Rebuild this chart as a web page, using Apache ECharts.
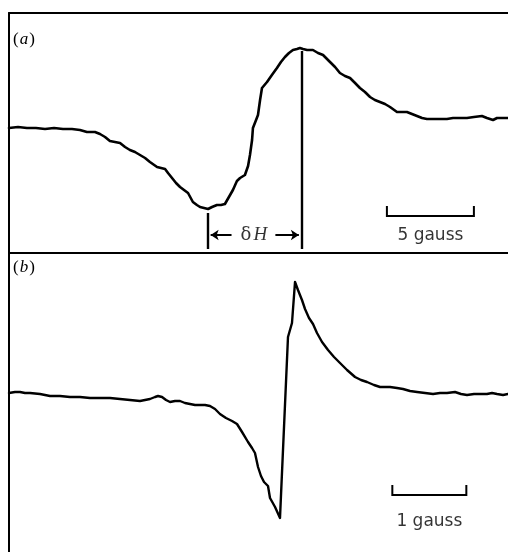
<!DOCTYPE html>
<html>
<head>
<meta charset="utf-8">
<script src="https://cdn.jsdelivr.net/npm/echarts@6/dist/echarts.min.js"></script>
<style>
  html, body { margin: 0; padding: 0; background: #fff; }
  #chart { width: 508px; height: 552px; }
</style>
</head>
<body>
<div id="chart"></div>
<script>
// (a) broad resonance: field offset in gauss, derivative signal in arbitrary units
const fieldA = [
  0, 0.52, 1.03, 1.55, 2.07, 2.59, 3.10, 3.62, 4.08, 4.48,
  4.94, 5.23, 5.52, 5.80, 6.09, 6.38, 6.67, 6.95, 7.24, 7.53,
  7.82, 8.10, 8.51, 8.97, 9.14, 9.37, 9.60, 9.83, 10.06, 10.29,
  10.57, 10.80, 10.98, 11.21, 11.44, 11.67, 11.95, 12.18, 12.41, 12.64,
  12.87, 13.10, 13.28, 13.56, 13.74, 13.85, 13.97, 14.02, 14.20, 14.31,
  14.43, 14.54, 14.83, 15.11, 15.40, 15.63, 15.86, 16.09, 16.32, 16.55,
  16.72, 16.90, 17.13, 17.47, 17.76, 18.05, 18.45, 18.74, 19.02, 19.31,
  19.60, 19.89, 20.17, 20.46, 20.75, 21.03, 21.32, 21.61, 21.90, 22.30,
  22.59, 22.87, 23.16, 23.45, 23.74, 24.02, 24.37, 24.77, 25.17, 25.52,
  25.92, 26.32, 26.72, 27.18, 27.47, 27.82, 28.05, 28.33, 28.68
];
const signalA = [
  0, 1, 0, 0, -1, 0, -1, -1, -2, -4,
  -4, -6, -9, -13, -14, -15, -19, -22, -24, -27,
  -30, -34, -39, -41, -45, -50, -55, -59, -62, -65,
  -74, -77, -79, -80, -81, -79, -77, -77, -76, -69,
  -62, -53, -50, -47, -38, -27, -12, 0, 8, 13,
  28, 40, 46, 53, 60, 66, 71, 75, 78, 79,
  80, 79, 78, 78, 75, 73, 66, 61, 55, 52,
  50, 45, 40, 36, 31, 28, 26, 24, 21, 16,
  16, 16, 14, 12, 10, 9, 9, 9, 9, 10,
  10, 10, 11, 12, 10, 8, 10, 10, 10
];

// (b) narrow resonance
const fieldB = [
  0, 0.081, 0.149, 0.216, 0.284, 0.419, 0.554, 0.689, 0.824, 0.959,
  1.095, 1.230, 1.365, 1.500, 1.635, 1.770, 1.838, 1.905, 1.973, 2.014,
  2.068, 2.122, 2.176, 2.243, 2.311, 2.378, 2.446, 2.514, 2.649, 2.716,
  2.784, 2.851, 2.932, 3.014, 3.081, 3.149, 3.230, 3.284, 3.324, 3.365,
  3.405, 3.446, 3.500, 3.527, 3.595, 3.662, 3.770, 3.824, 3.865, 3.878,
  3.905, 3.959, 4.000, 4.054, 4.108, 4.162, 4.230, 4.311, 4.392, 4.473,
  4.568, 4.676, 4.757, 4.838, 4.932, 5.014, 5.149, 5.243, 5.324, 5.419,
  5.514, 5.622, 5.730, 5.824, 5.919, 6.027, 6.108, 6.189, 6.284, 6.365,
  6.459, 6.527, 6.595, 6.676, 6.743
];
const signalB = [
  0, 1, 1, 0, 0, -1, -3, -3, -4, -4,
  -5, -5, -5, -6, -7, -8, -7, -6, -4, -3,
  -4, -7, -9, -8, -8, -10, -11, -12, -12, -13,
  -16, -21, -25, -28, -31, -39, -49, -55, -60, -74,
  -83, -89, -93, -105, -114, -125, 56, 70, 111, 112,
  103, 93, 84, 75, 69, 60, 51, 43, 36, 30,
  23, 16, 13, 11, 8, 6, 6, 5, 4, 2,
  1, 0, -1, 0, 0, 1, -1, -2, -1, -1,
  -1, 0, -1, -2, -1
];

// Linewidth markers (gauss) and scale bars
const troughFieldA = 11.44;
const peakFieldA = 16.81;
const scaleA = { start: 21.72, length: 5, text: '5 gauss' };
const scaleB = { start: 5.18, length: 1, text: '1 gauss' };
const panelLabels = ['a', 'b'];

const pairs = (xs, ys) => xs.map((x, i) => [x, ys[i]]);

const INK = '#000';
const chart = echarts.init(document.getElementById('chart'), null, { renderer: 'canvas' });

const axisLineStyle = { show: true, onZero: false, lineStyle: { color: INK, width: 2 } };
const bareAxis = {
  axisTick: { show: false }, axisLabel: { show: false }, splitLine: { show: false }
};

function scaleBar(s, yTop, yBottom, gi) {
  return {
    type: 'lines', coordinateSystem: 'cartesian2d', xAxisIndex: gi, yAxisIndex: gi,
    polyline: true, silent: true,
    lineStyle: { color: INK, width: 2, opacity: 1 },
    data: [{ coords: [[s.start, yTop], [s.start, yBottom], [s.start + s.length, yBottom], [s.start + s.length, yTop]] }]
  };
}
function textMark(x, y, label, gi) {
  return {
    type: 'scatter', xAxisIndex: gi, yAxisIndex: gi, symbolSize: 0, silent: true,
    itemStyle: { color: INK },
    data: [[x, y]],
    label: Object.assign({
      show: true, position: 'inside', color: INK, textBorderWidth: 0,
      fontFamily: 'DejaVu Sans', fontSize: 17
    }, label)
  };
}

const option = {
  animation: false,
  backgroundColor: '#fff',
  grid: [
    { left: 9, top: 13, width: 499, height: 240 },
    { left: 9, top: 253, width: 499, height: 299 }
  ],
  xAxis: [
    Object.assign({ type: 'value', gridIndex: 0, min: 0, max: 28.68, position: 'top', axisLine: axisLineStyle }, bareAxis),
    Object.assign({ type: 'value', gridIndex: 1, min: 0, max: 6.743, position: 'top', axisLine: axisLineStyle }, bareAxis)
  ],
  yAxis: [
    Object.assign({ type: 'value', gridIndex: 0, min: -125, max: 115, axisLine: axisLineStyle }, bareAxis),
    Object.assign({ type: 'value', gridIndex: 1, min: -159, max: 140, axisLine: axisLineStyle }, bareAxis)
  ],
  graphic: panelLabels.map((p, i) => ({
    type: 'text', left: 13, top: i === 0 ? 31 : 259,
    style: {
      text: '{p|(}{l|' + p + '}{p|)}',
      rich: {
        p: { fontFamily: 'Liberation Serif', fontSize: 17, fill: INK },
        l: { fontFamily: 'Liberation Serif', fontStyle: 'italic', fontSize: 17, fill: INK, padding: [0, 1, 0, 1] }
      }
    }
  })),
  series: [
    {
      type: 'line', xAxisIndex: 0, yAxisIndex: 0, data: pairs(fieldA, signalA),
      showSymbol: false, silent: true,
      lineStyle: { color: INK, width: 2.6, join: 'round', cap: 'round' }
    },
    {
      type: 'line', xAxisIndex: 1, yAxisIndex: 1, data: pairs(fieldB, signalB),
      showSymbol: false, silent: true,
      lineStyle: { color: INK, width: 2.4, join: 'round', cap: 'round' }
    },
    // vertical markers at the derivative extrema
    {
      type: 'lines', coordinateSystem: 'cartesian2d', xAxisIndex: 0, yAxisIndex: 0, silent: true,
      lineStyle: { color: INK, width: 2.4, opacity: 1 },
      data: [
        { coords: [[troughFieldA, -85], [troughFieldA, -121]] },
        { coords: [[peakFieldA, 77], [peakFieldA, -121]] }
      ]
    },
    // arrows pointing at the markers
    {
      type: 'lines', coordinateSystem: 'cartesian2d', xAxisIndex: 0, yAxisIndex: 0, silent: true,
      symbol: ['none', 'arrow'], symbolSize: 8,
      lineStyle: { color: INK, width: 2, opacity: 1 },
      data: [
        { coords: [[troughFieldA + 1.35, -107], [troughFieldA + 0.15, -107]] },
        { coords: [[peakFieldA - 1.5, -107], [peakFieldA - 0.15, -107]] }
      ]
    },
    textMark((troughFieldA + peakFieldA) / 2 - 0.05, -107, {
      formatter: '{g|δ}{h|H}',
      rich: {
        g: { fontFamily: 'DejaVu Serif', fontSize: 18, color: INK, padding: [0, 2, 0, 0] },
        h: { fontFamily: 'Liberation Serif', fontStyle: 'italic', fontSize: 19, color: INK }
      }
    }, 0),
    scaleBar(scaleA, -78, -88, 0),
    textMark(scaleA.start + scaleA.length / 2, -108, { formatter: scaleA.text }, 0),
    scaleBar(scaleB, -92, -102, 1),
    textMark(scaleB.start + scaleB.length / 2, -129, { formatter: scaleB.text }, 1)
  ]
};

chart.setOption(option);
</script>
</body>
</html>
